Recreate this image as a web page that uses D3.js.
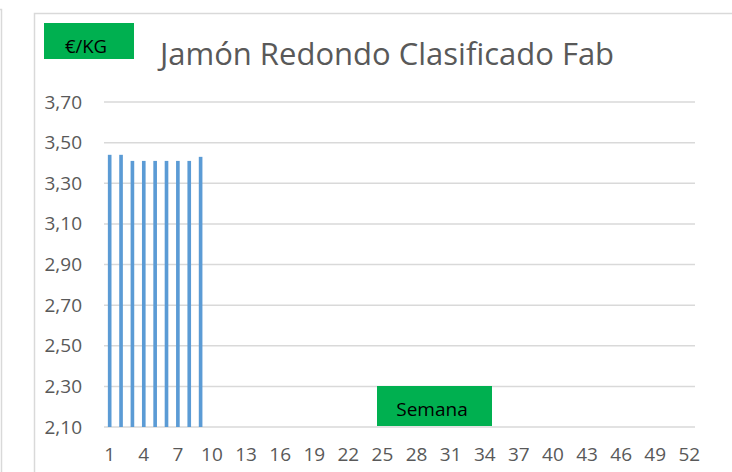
<!DOCTYPE html>
<html>
<head>
<meta charset="utf-8">
<script src="https://cdn.jsdelivr.net/npm/d3@7"></script>
<style>
  body { margin: 0; background: #fff; }
  svg { display: block; font-family: "Open Sans", sans-serif; }
</style>
</head>
<body>
<div id="chart"></div>
<script>

// data
const weeks = d3.range(1, 53);
const prices = [3.44, 3.44, 3.41, 3.41, 3.41, 3.41, 3.41, 3.41, 3.43];
const yTicks = [2.10, 2.30, 2.50, 2.70, 2.90, 3.10, 3.30, 3.50, 3.70];
const xTickLabels = weeks.filter(w => (w - 1) % 3 === 0);
const title = "Jamón Redondo Clasificado Fab";
const yLabel = "€/KG";
const xLabel = "Semana";

const width = 732, height = 472;
const margins = { top: 102, bottom: 45, left: 104, right: 37 };

const svg = d3.select("#chart").append("svg")
    .attr("width", width)
    .attr("height", height);

// panel borders
svg.append("path")
    .attr("d", "M0,9.5 H1.5 V472")
    .attr("fill", "none")
    .attr("stroke", "#d9d9d9")
    .attr("stroke-width", 1.5);
svg.append("rect")
    .attr("x", 34.5).attr("y", 13.5)
    .attr("width", 720).attr("height", 480)
    .attr("fill", "#fff")
    .attr("stroke", "#d9d9d9")
    .attr("stroke-width", 1.5);

// scales
const xScale = d3.scaleBand()
    .domain(weeks)
    .range([margins.left, width - margins.right])
    .paddingInner(0.68)
    .paddingOuter(0.34);

const yScale = d3.scaleLinear()
    .domain([2.10, 3.70])
    .range([height - margins.bottom, margins.top]);

const fmt = v => d3.format(".2f")(v).replace(".", ",");

// gridlines
svg.append("g")
    .selectAll("line")
    .data(yTicks)
    .join("line")
    .attr("x1", margins.left)
    .attr("x2", width - margins.right)
    .attr("y1", d => yScale(d))
    .attr("y2", d => yScale(d))
    .attr("stroke", "#d9d9d9")
    .attr("stroke-width", 1.5);

// y axis
const yAxisGroup = svg.append("g")
    .attr("transform", `translate(${margins.left - 22},0)`)
    .call(d3.axisLeft(yScale).tickValues(yTicks).tickFormat(fmt).tickSize(0).tickPadding(0));
yAxisGroup.select(".domain").remove();
yAxisGroup.selectAll("text")
    .attr("font-family", "Open Sans")
    .attr("font-size", 19)
    .attr("fill", "#595959");

// x axis
const xAxisGroup = svg.append("g")
    .attr("transform", `translate(0,${height - margins.bottom})`)
    .call(d3.axisBottom(xScale).tickValues(xTickLabels).tickSize(0).tickPadding(21));
xAxisGroup.select(".domain").remove();
xAxisGroup.selectAll("text")
    .attr("font-family", "Open Sans")
    .attr("font-size", 19)
    .attr("fill", "#595959");

// bars
svg.append("g")
    .selectAll("rect")
    .data(prices)
    .join("rect")
    .attr("x", (d, i) => xScale(weeks[i]))
    .attr("y", d => yScale(d))
    .attr("width", xScale.bandwidth())
    .attr("height", d => yScale(2.10) - yScale(d))
    .attr("fill", "#5b9bd5");

// title
svg.append("text")
    .attr("x", 387)
    .attr("y", 65)
    .attr("text-anchor", "middle")
    .attr("font-size", 31)
    .attr("fill", "#595959")
    .text(title);

// y label box
svg.append("rect")
    .attr("x", 44).attr("y", 23)
    .attr("width", 90).attr("height", 36)
    .attr("fill", "#00b050");
svg.append("text")
    .attr("x", 86).attr("y", 53)
    .attr("text-anchor", "middle")
    .attr("font-size", 18.5)
    .attr("fill", "#000")
    .text(yLabel);

// x label box
svg.append("rect")
    .attr("x", 377).attr("y", 386)
    .attr("width", 115).attr("height", 40)
    .attr("fill", "#00b050");
svg.append("text")
    .attr("x", 432).attr("y", 416)
    .attr("text-anchor", "middle")
    .attr("font-size", 19)
    .attr("fill", "#000")
    .text(xLabel);

</script>
</body>
</html>
